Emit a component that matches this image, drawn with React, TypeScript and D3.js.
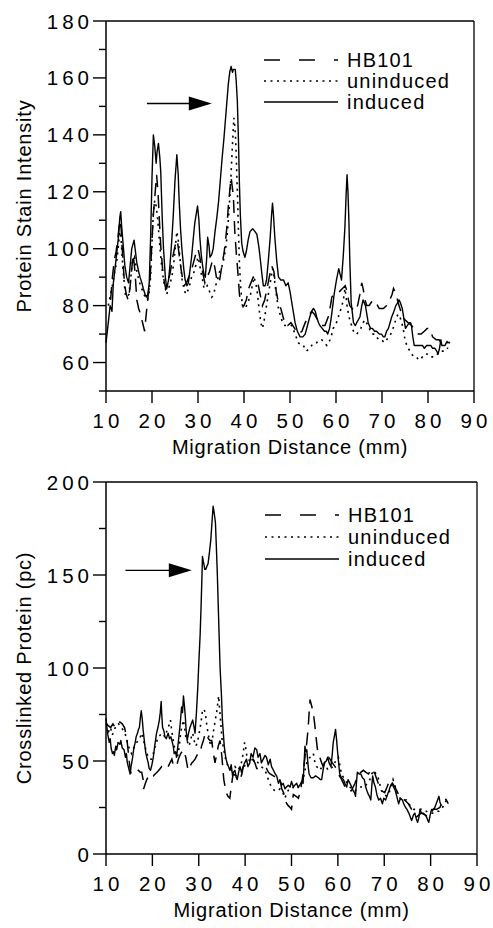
import React from "react";
import * as d3 from "d3";

type Pt = [number, number];

// migration distance (mm) ticks shared by both panels
const xTicks = [10, 20, 30, 40, 50, 60, 70, 80, 90];
const legendLabels = ["HB101", "uninduced", "induced"];

// ---- top panel: protein stain intensity ----
const topYMajor = [60, 80, 100, 120, 140, 160, 180];
const topYMinor = [50, 70, 90, 110, 130, 150, 170];

const topInduced: Pt[] = [
  [10, 67], [10.5, 74], [10.9, 80], [11.3, 78], [11.6, 88], [12.1, 95], [12.7, 104], [13.0, 111], [13.2, 113], [13.4, 108],
  [13.6, 104], [14.1, 94], [14.5, 90], [14.9, 88], [15.3, 95], [15.6, 100], [16.1, 103], [16.4, 99], [16.7, 95], [17.1, 92],
  [17.4, 90], [17.8, 88], [18.1, 86], [18.5, 84], [18.8, 83], [19.1, 84], [19.4, 88], [19.7, 104], [20.0, 125], [20.3, 140],
  [20.6, 136], [20.9, 130], [21.1, 134], [21.4, 137], [21.7, 132], [21.9, 127], [22.2, 112], [22.5, 100], [22.9, 90], [23.2, 86],
  [23.6, 89], [23.9, 94], [24.3, 103], [24.6, 111], [25.0, 124], [25.4, 133], [25.7, 126], [25.9, 117], [26.2, 107], [26.5, 100],
  [26.9, 93], [27.2, 89], [27.6, 87], [27.9, 88], [28.3, 93], [28.6, 97], [29.0, 104], [29.3, 109], [29.7, 113], [29.9, 115],
  [30.2, 110], [30.4, 104], [30.7, 98], [31.0, 94], [31.3, 91], [31.6, 90], [31.9, 97], [32.1, 104], [32.4, 101], [32.6, 97],
  [33.0, 98], [33.3, 100], [33.7, 106], [34.1, 111], [34.5, 117], [34.8, 123], [35.2, 131], [35.65, 139], [36.1, 148], [36.6, 158],
  [36.9, 162], [37.2, 164], [37.5, 162], [37.7, 163], [38.1, 163], [38.3, 159], [38.55, 152], [38.8, 138], [39.0, 123], [39.2, 112],
  [39.5, 102], [39.8, 99], [40.2, 97], [40.5, 99], [40.9, 103], [41.3, 106], [41.9, 107], [42.4, 106], [42.8, 105], [43.2, 101],
  [43.5, 97], [43.9, 91], [44.2, 87], [44.6, 87], [44.9, 89], [45.3, 96], [45.7, 104], [46.0, 112], [46.2, 116], [46.4, 112],
  [46.7, 104], [47.1, 96], [47.5, 90], [48.0, 89], [48.6, 89], [49.1, 87], [49.6, 88], [50.0, 85], [50.4, 81], [50.8, 77],
  [51.1, 74], [51.6, 71], [52.2, 69], [52.8, 69], [53.3, 70], [53.8, 73], [54.3, 76], [54.7, 78], [55.1, 79], [55.5, 78],
  [55.8, 76], [56.2, 74], [56.5, 73], [57.0, 72], [57.5, 71], [57.9, 71], [58.2, 70], [58.6, 72], [58.9, 75], [59.3, 80],
  [59.6, 84], [60.1, 89], [60.6, 93], [60.9, 91], [61.2, 89], [61.6, 98], [61.95, 108], [62.2, 119], [62.4, 126], [62.6, 120],
  [62.8, 110], [63.0, 96], [63.3, 81], [63.8, 74], [64.2, 73], [64.5, 74], [65.2, 76], [65.6, 80], [65.9, 82], [66.4, 80],
  [67.0, 74], [67.5, 72], [67.9, 72], [68.4, 71], [68.8, 71], [69.4, 70], [69.9, 70], [70.3, 69], [70.6, 69], [71.0, 71],
  [71.4, 72], [72.1, 76], [72.6, 78], [73.0, 80], [73.4, 81], [73.7, 82], [74.0, 81], [74.4, 79], [74.8, 75], [75.1, 72],
  [75.5, 73], [75.9, 74], [76.2, 74], [76.4, 73], [76.7, 69], [77.0, 66], [77.5, 66], [77.9, 66], [78.4, 66], [78.8, 66],
  [79.2, 65], [79.7, 66], [80.1, 66], [80.6, 66], [81.0, 65], [81.5, 65], [81.9, 64], [82.2, 63], [82.5, 65], [82.8, 68],
  [83.0, 66], [83.3, 66], [83.7, 66], [84.0, 67], [84.4, 67], [84.8, 67],
];

const topUninduced: Pt[] = [
  [10.5, 80], [11.0, 84], [11.5, 88], [11.9, 92], [12.3, 95], [12.7, 101], [13.0, 106], [13.3, 103], [13.6, 95], [13.9, 89],
  [14.2, 84], [14.6, 83], [15.0, 84], [15.4, 90], [15.7, 95], [16.2, 97], [16.6, 93], [17.0, 90], [17.5, 87], [18.0, 85],
  [18.5, 83], [19.0, 82], [19.4, 85], [19.7, 90], [20.0, 102], [20.3, 113], [20.6, 117], [20.9, 115], [21.2, 111], [21.5, 105],
  [21.8, 99], [22.1, 94], [22.5, 89], [22.9, 86], [23.2, 84], [23.6, 86], [24.0, 88], [24.4, 91], [24.8, 96], [25.1, 101],
  [25.4, 106], [25.7, 103], [26.0, 98], [26.3, 93], [26.6, 88], [27.0, 86], [27.3, 84], [27.7, 85], [28.0, 86], [28.3, 88],
  [28.6, 90], [29.0, 91], [29.3, 93], [29.7, 95], [30.0, 97], [30.3, 95], [30.6, 92], [31.0, 89], [31.3, 86], [31.6, 86],
  [32.0, 87], [32.3, 86], [32.7, 84], [33.0, 83], [33.4, 84], [33.7, 86], [34.0, 88], [34.4, 90], [34.7, 92], [35.1, 93],
  [35.4, 95], [35.7, 97], [36.0, 100], [36.3, 104], [36.6, 110], [37.0, 120], [37.3, 130], [37.6, 140], [37.8, 146], [38.0, 143],
  [38.2, 138], [38.4, 128], [38.6, 118], [38.8, 106], [39.0, 95], [39.3, 86], [39.6, 81], [39.9, 79], [40.3, 79], [40.8, 81],
  [41.3, 83], [41.8, 87], [42.2, 90], [42.5, 88], [42.8, 86], [43.2, 80], [43.5, 76], [43.8, 73], [44.0, 72], [44.3, 74],
  [44.6, 77], [45.0, 81], [45.3, 84], [45.8, 89], [46.2, 93], [46.5, 91], [46.7, 88], [47.1, 83], [47.5, 79], [48.0, 76],
  [48.4, 74], [48.9, 73], [49.3, 73], [49.8, 73], [50.4, 73], [51.1, 70], [51.8, 67], [52.4, 66], [52.9, 66], [53.6, 64],
  [54.2, 65], [54.7, 66], [55.3, 67], [55.8, 67], [56.4, 68], [56.9, 68], [57.5, 67], [58.0, 66], [58.4, 67], [58.7, 68],
  [59.1, 70], [59.4, 72], [59.8, 73], [60.1, 74], [60.5, 76], [60.9, 78], [61.3, 80], [61.6, 82], [61.95, 86], [62.2, 83],
  [62.4, 80], [62.7, 77], [63.0, 75], [63.4, 73], [63.8, 71], [64.2, 70], [64.5, 70], [65.0, 71], [65.4, 72], [65.9, 74],
  [66.3, 75], [66.6, 74], [67.0, 73], [67.5, 71], [67.9, 70], [68.4, 70], [68.8, 69], [69.3, 68], [69.9, 68], [70.5, 67],
  [71.0, 68], [71.5, 69], [71.9, 70], [72.4, 72], [72.8, 74], [73.2, 76], [73.5, 77], [73.9, 76], [74.3, 74], [74.7, 71],
  [75.0, 68], [75.4, 66], [75.7, 65], [76.1, 64], [76.4, 63], [77.0, 62], [77.5, 62], [77.9, 61], [78.3, 61], [78.8, 62],
  [79.3, 63], [79.8, 63], [80.4, 62], [81.0, 62], [81.5, 62], [82.1, 63], [82.6, 64], [83.0, 64], [83.5, 64], [84.0, 65], [84.4, 65],
];

const topHB101: Pt[] = [
  [11.0, 82], [11.4, 90], [11.8, 96], [12.2, 99], [12.6, 104], [13.0, 110], [13.3, 107], [13.6, 98], [14.0, 88], [14.4, 84],
  [14.8, 82], [15.2, 86], [15.6, 93], [15.9, 98], [16.3, 92], [16.7, 82], [17.1, 79], [17.5, 77], [17.8, 75], [18.1, 73],
  [18.4, 71], [18.8, 78], [19.2, 84], [19.6, 90], [20.0, 103], [20.3, 112], [20.7, 120], [21.0, 126], [21.3, 120], [21.6, 110],
  [21.9, 101], [22.3, 93], [22.7, 88], [23.0, 86], [23.5, 88], [24.0, 92], [24.5, 97], [25.0, 101], [25.5, 103], [25.9, 98],
  [26.3, 93], [26.7, 89], [27.0, 87], [27.5, 88], [28.0, 90], [28.5, 92], [29.0, 95], [29.5, 98], [30.0, 100], [30.4, 97],
  [30.7, 94], [31.1, 91], [31.5, 88], [32.0, 90], [32.5, 92], [33.0, 95], [33.3, 96], [33.7, 93], [34.0, 90], [34.4, 88],
  [34.7, 89], [35.0, 92], [35.3, 95], [35.7, 99], [36.0, 103], [36.3, 108], [36.6, 115], [37.0, 122], [37.2, 125], [37.5, 121],
  [37.7, 118], [38.0, 106], [38.3, 99], [38.5, 95], [38.8, 89], [39.0, 84], [39.3, 81], [39.7, 80], [40.0, 80], [40.5, 82],
  [41.0, 86], [41.5, 88], [42.0, 90], [42.5, 89], [43.0, 88], [43.5, 84], [44.0, 80], [44.5, 82], [45.0, 86], [45.5, 90],
  [46.0, 94], [46.5, 92], [47.0, 85], [47.5, 81], [48.0, 79], [48.5, 76], [49.0, 73], [49.5, 73], [50.2, 74], [51.0, 72],
  [51.8, 70], [52.6, 71], [53.3, 74], [54.0, 76], [54.7, 78], [55.3, 77], [56.0, 75], [56.8, 73], [57.6, 73], [58.3, 76],
  [58.8, 80], [59.1, 83], [59.6, 84], [60.1, 84], [60.8, 85], [61.4, 86], [62.0, 87], [62.4, 85], [62.7, 82], [63.0, 80],
  [63.5, 79], [64.1, 78], [64.7, 80], [65.2, 84], [65.6, 88], [65.9, 86], [66.3, 82], [66.7, 80], [67.2, 80], [67.6, 81],
  [68.1, 82], [68.7, 81], [69.4, 79], [70.3, 79], [71.0, 80], [71.7, 82], [72.2, 84], [72.5, 86], [72.8, 85], [73.2, 83],
  [73.7, 80], [74.1, 78], [74.4, 76], [75.0, 75], [75.7, 74], [76.4, 73], [77.0, 72], [77.5, 71], [77.9, 70], [78.5, 70],
  [79.2, 71], [79.8, 72], [80.4, 72], [81.0, 69], [81.8, 68], [82.4, 68], [82.8, 67], [83.3, 68], [83.8, 68], [84.3, 67], [84.8, 67],
];

// ---- bottom panel: crosslinked protein (pc) ----
const bottomYMajor = [0, 50, 100, 150, 200];
const bottomYMinor = [25, 75, 125, 175];

const bottomInduced: Pt[] = [
  [10.0, 73], [10.2, 68], [10.4, 64], [10.7, 60], [10.9, 62], [11.1, 57], [11.4, 54], [11.6, 55], [11.8, 53], [12.1, 58],
  [12.3, 56], [12.6, 60], [13.0, 59], [13.2, 61], [13.5, 57], [13.9, 56], [14.2, 52], [14.4, 54], [14.6, 49], [14.9, 46],
  [15.2, 43], [15.4, 47], [15.75, 52], [16.0, 57], [16.3, 60], [16.5, 63], [16.8, 65], [17.0, 67], [17.2, 68], [17.4, 73],
  [17.6, 77], [17.8, 73], [18.0, 67], [18.3, 60], [18.6, 54], [18.8, 52], [19.1, 49], [19.3, 46], [19.6, 45], [19.9, 48],
  [20.2, 52], [20.5, 58], [20.9, 65], [21.2, 68], [21.5, 72], [21.7, 76], [21.9, 82], [22.0, 76], [22.2, 68], [22.5, 66],
  [22.7, 63], [23.0, 62], [23.4, 65], [23.7, 62], [24.0, 63], [24.2, 61], [24.5, 58], [24.7, 54], [25.0, 55], [25.2, 52],
  [25.5, 58], [25.8, 65], [26.0, 70], [26.3, 79], [26.5, 76], [26.7, 85], [26.9, 80], [27.1, 74], [27.3, 66], [27.5, 61],
  [27.8, 65], [28.1, 68], [28.4, 70], [28.7, 72], [29.0, 68], [29.2, 65], [29.5, 76], [29.8, 90], [30.0, 102], [30.3, 118],
  [30.5, 133], [30.7, 150], [30.8, 160], [31.0, 157], [31.1, 156], [31.3, 153], [31.5, 153], [31.8, 155], [32.0, 156], [32.3, 162],
  [32.6, 169], [32.9, 180], [33.1, 187], [33.3, 184], [33.6, 178], [33.8, 165], [34.0, 151], [34.2, 134], [34.4, 117], [34.6, 100],
  [34.9, 85], [35.1, 72], [35.3, 65], [35.5, 58], [35.7, 54], [35.9, 51], [36.1, 49], [36.4, 47], [36.7, 45], [37.0, 48],
  [37.3, 42], [37.5, 44], [37.8, 45], [38.1, 41], [38.3, 40], [38.6, 44], [38.9, 47], [39.2, 44], [39.6, 47], [39.9, 49],
  [40.3, 51], [40.6, 47], [41.0, 49], [41.3, 54], [41.7, 52], [42.1, 57], [42.5, 56], [42.8, 52], [43.2, 54], [43.5, 49],
  [43.9, 51], [44.3, 53], [44.6, 52], [45.0, 48], [45.4, 51], [45.7, 47], [46.1, 45], [46.5, 43], [46.8, 42], [47.2, 38],
  [47.5, 40], [47.9, 37], [48.2, 38], [48.6, 35], [48.9, 36], [49.3, 37], [49.7, 36], [50.0, 39], [50.4, 36], [50.7, 37],
  [51.1, 38], [51.4, 36], [51.8, 37], [52.2, 39], [52.5, 38], [52.7, 48], [52.9, 58], [53.1, 55], [53.3, 56], [53.6, 47],
  [53.8, 43], [54.2, 41], [54.7, 41], [55.2, 42], [55.8, 41], [56.2, 40], [56.5, 40], [56.8, 45], [57.1, 49], [57.5, 50],
  [57.8, 52], [58.1, 49], [58.5, 47], [58.8, 54], [59.0, 60], [59.3, 64], [59.5, 67], [59.7, 62], [59.9, 56], [60.2, 48],
  [60.4, 43], [60.8, 41], [61.2, 40], [61.5, 38], [61.9, 36], [62.2, 40], [62.6, 38], [63.0, 36], [63.3, 34], [63.6, 33],
  [63.8, 31], [64.0, 38], [64.2, 44], [64.6, 43], [64.96, 43], [65.3, 41], [65.7, 40], [66.0, 36], [66.4, 33], [66.8, 31],
  [67.1, 29], [67.3, 36], [67.5, 42], [67.8, 38], [68.1, 36], [68.4, 32], [68.8, 29], [69.2, 30], [69.6, 27], [69.9, 30],
  [70.3, 29], [70.7, 32], [71.0, 34], [71.4, 37], [71.7, 38], [72.0, 36], [72.4, 34], [72.8, 30], [73.1, 27], [73.5, 30],
  [73.9, 29], [74.2, 27], [74.6, 25], [74.9, 24], [75.3, 22], [75.6, 20], [75.9, 18], [76.3, 21], [76.6, 22], [76.9, 19],
  [77.2, 17], [77.5, 20], [77.7, 24], [78.0, 22], [78.4, 22], [78.8, 21], [79.1, 20], [79.4, 18], [79.6, 17], [79.9, 21],
  [80.2, 24], [80.6, 24], [80.9, 25], [81.2, 27], [81.5, 29], [81.8, 31], [82.0, 28], [82.3, 26],
];

const bottomUninduced: Pt[] = [
  [10.2, 70], [10.6, 66], [11.0, 68], [11.3, 64], [11.6, 65], [12.0, 68], [12.4, 70], [12.7, 70], [13.0, 69], [13.4, 68],
  [13.8, 66], [14.1, 65], [14.5, 61], [14.8, 58], [15.2, 56], [15.5, 54], [15.8, 56], [16.2, 58], [16.6, 60], [17.0, 61],
  [17.4, 63], [17.7, 65], [18.0, 62], [18.4, 58], [18.7, 55], [19.1, 52], [19.5, 51], [19.8, 51], [20.2, 54], [20.6, 58],
  [21.0, 61], [21.3, 63], [21.7, 64], [22.0, 65], [22.4, 64], [22.7, 63], [23.1, 66], [23.4, 68], [23.7, 70], [23.9, 72],
  [24.2, 66], [24.5, 61], [24.7, 58], [25.1, 54], [25.4, 52], [25.8, 58], [26.1, 65], [26.4, 69], [26.7, 72], [27.0, 67],
  [27.2, 63], [27.6, 60], [27.9, 58], [28.3, 62], [28.7, 65], [29.0, 61], [29.4, 58], [29.8, 61], [30.1, 65], [30.5, 71],
  [30.8, 77], [31.1, 78], [31.4, 76], [31.7, 70], [32.0, 65], [32.3, 61], [32.6, 58], [32.9, 61], [33.1, 65], [33.5, 71],
  [33.9, 77], [34.1, 81], [34.3, 85], [34.5, 78], [34.7, 72], [34.9, 65], [35.1, 60], [35.4, 56], [35.7, 52], [36.0, 49],
  [36.4, 47], [36.7, 46], [37.1, 45], [37.4, 46], [37.8, 47], [38.1, 46], [38.5, 45], [38.9, 47], [39.2, 49], [39.5, 53],
  [39.9, 60], [40.2, 56], [40.4, 52], [40.7, 51], [41.0, 50], [41.4, 49], [41.8, 50], [42.1, 51], [42.5, 50], [42.8, 49],
  [43.2, 48], [43.5, 47], [43.9, 46], [44.3, 45], [44.6, 43], [45.0, 40], [45.3, 38], [45.7, 36], [46.0, 35], [46.4, 34],
  [46.8, 34], [47.1, 34], [47.5, 35], [47.9, 34], [48.3, 32], [48.6, 30], [49.0, 33], [49.5, 35], [50.0, 35], [50.5, 36],
  [51.0, 35], [51.5, 36], [52.0, 37], [52.5, 40], [52.9, 45], [53.3, 49], [53.6, 51], [54.0, 52], [54.4, 53], [54.7, 54],
  [55.0, 50], [55.4, 47], [55.8, 46], [56.1, 45], [56.6, 47], [57.1, 49], [57.5, 47], [57.9, 45], [58.4, 46], [59.0, 47],
  [59.5, 50], [60.1, 52], [60.4, 48], [60.6, 45], [61.0, 42], [61.5, 40], [62.0, 38], [62.6, 36], [63.1, 35], [63.7, 34],
  [64.2, 35], [64.7, 36], [65.2, 36], [65.8, 36], [66.3, 38], [66.9, 40], [67.3, 43], [67.8, 45], [68.2, 43], [68.6, 42],
  [69.0, 38], [69.4, 34], [70.0, 32], [70.5, 31], [70.9, 33], [71.2, 34], [71.6, 37], [71.9, 40], [72.3, 37], [72.6, 34],
  [73.1, 31], [73.7, 29], [74.2, 29], [74.8, 29], [75.3, 27], [75.9, 25], [76.4, 24], [76.9, 24], [77.5, 24], [78.0, 24],
  [78.6, 23], [79.1, 23], [79.6, 22], [80.2, 22], [80.7, 22], [81.3, 23], [81.8, 23], [82.3, 24], [82.8, 26], [83.4, 29],
];

const bottomHB101: Pt[] = [
  [10.0, 70], [10.5, 69], [11.0, 68], [11.5, 70], [12.0, 68], [12.5, 70], [13.0, 71], [13.5, 70], [14.0, 68], [14.5, 62],
  [15.0, 50], [15.3, 44], [15.6, 43], [15.9, 43], [16.2, 44], [16.6, 44], [17.0, 45], [17.4, 44], [17.7, 44], [18.0, 40],
  [18.1, 35], [18.5, 38], [18.8, 40], [19.2, 42], [19.5, 43], [19.9, 42], [20.2, 42], [20.6, 43], [21.0, 44], [21.4, 45],
  [21.7, 46], [22.0, 47], [22.4, 46], [22.7, 46], [23.1, 46], [23.4, 47], [23.8, 49], [24.2, 51], [24.5, 48], [24.9, 47],
  [25.2, 47], [25.6, 51], [26.1, 54], [26.7, 56], [27.2, 52], [27.7, 45], [28.1, 47], [28.5, 49], [28.9, 50], [29.2, 51],
  [29.6, 53], [29.9, 54], [30.3, 54], [30.6, 58], [31.0, 61], [31.4, 65], [31.8, 63], [32.4, 61], [32.8, 61], [33.1, 55],
  [33.5, 49], [33.9, 54], [34.2, 58], [34.6, 61], [35.0, 52], [35.4, 40], [35.9, 33], [36.3, 31], [36.7, 30], [37.0, 36],
  [37.4, 43], [38.1, 42], [38.9, 40], [39.3, 43], [39.6, 47], [40.3, 48], [41.0, 50], [41.7, 51], [42.1, 49], [42.5, 46],
  [43.2, 46], [43.9, 46], [44.6, 46], [45.0, 44], [45.4, 43], [46.1, 42], [46.8, 41], [47.5, 40], [47.9, 35], [48.3, 33],
  [48.6, 29], [49.0, 27], [49.3, 26], [49.7, 25], [50.0, 24], [50.4, 32], [51.0, 31], [51.5, 30], [52.0, 35], [52.5, 43],
  [52.9, 52], [53.3, 60], [53.6, 68], [53.8, 76], [54.0, 83], [54.3, 80], [54.7, 76], [55.0, 70], [55.2, 65], [55.6, 56],
  [56.1, 52], [56.5, 49], [56.8, 47], [57.2, 49], [57.6, 52], [58.0, 52], [58.3, 51], [58.8, 49], [59.4, 47], [60.1, 43],
  [60.6, 41], [61.2, 38], [61.9, 34], [62.4, 34], [62.9, 34], [63.3, 36], [63.7, 38], [64.1, 41], [64.5, 43], [65.0, 44],
  [65.5, 45], [66.0, 44], [66.6, 43], [67.3, 46], [68.0, 43], [68.7, 38], [69.4, 34], [70.1, 33], [70.6, 36], [71.2, 40],
  [71.8, 38], [72.3, 36], [72.9, 33], [73.4, 31], [73.9, 30], [74.4, 29], [75.2, 27], [75.9, 24], [76.5, 22], [77.0, 20],
  [77.5, 21], [78.0, 22], [78.8, 21], [79.5, 20], [80.0, 22], [80.6, 24], [81.3, 24], [82.0, 25], [82.5, 28], [83.0, 30],
  [83.4, 29], [83.8, 27],
];

// arrows pointing at the induced band: [x start, x end, y]
const topArrow = [18.9, 33.0, 151];
const bottomArrow = [14.2, 28.5, 152.5];

const FONT = "'Liberation Sans', Arial, Helvetica, sans-serif";
const dashHB = "13,8";
const dotted = "2,4.5";

type PanelProps = {
  top: number;
  bottom: number;
  right: number;
  yDomain: [number, number];
  yMajor: number[];
  yMinor: number[];
  induced: Pt[];
  uninduced: Pt[];
  hb101: Pt[];
  yTitle: string;
  arrow: number[];
  legendRows: number[];
  legendLeft: number;
};

function Panel(p: PanelProps) {
  const left = 106;
  const x = d3.scaleLinear().domain([10, 90]).range([left, p.right]);
  const y = d3.scaleLinear().domain(p.yDomain).range([p.bottom, p.top]);
  const line = d3
    .line<Pt>()
    .x((d) => x(d[0]))
    .y((d) => y(d[1]));

  const [ax0, ax1, ay] = p.arrow;
  const tipX = x(ax1);
  const arrowY = y(ay);
  const styles = [dashHB, dotted, undefined];

  return (
    <g fontFamily={FONT} fill="none" stroke="#000">
      {/* frame */}
      <line x1={left} x2={left} y1={p.top} y2={p.bottom} strokeWidth={1.5} />
      <line x1={left} x2={p.right} y1={p.bottom} y2={p.bottom} strokeWidth={1.5} />
      <line x1={left} x2={p.right} y1={p.top} y2={p.top} strokeWidth={1.3} />
      <line x1={p.right} x2={p.right} y1={p.top} y2={p.bottom} strokeWidth={1.3} />

      {p.yMajor.map((v) => (
        <g key={"M" + v}>
          <line x1={left - 13} x2={left} y1={y(v)} y2={y(v)} strokeWidth={1.4} />
          <text
            x={left - 13}
            y={y(v) + 7.5}
            textAnchor="end"
            fontSize={20.5}
            letterSpacing={4}
            fill="#000"
            stroke="none"
          >
            {v}
          </text>
        </g>
      ))}
      {p.yMinor.map((v) => (
        <line key={"m" + v} x1={left - 7} x2={left} y1={y(v)} y2={y(v)} strokeWidth={1.4} />
      ))}

      {xTicks.map((v) => (
        <g key={"x" + v}>
          <line x1={x(v)} x2={x(v)} y1={p.bottom} y2={p.bottom + 12} strokeWidth={1.4} />
          <text
            x={x(v) + 2}
            y={p.bottom + 37}
            textAnchor="middle"
            fontSize={20.5}
            letterSpacing={4}
            fill="#000"
            stroke="none"
          >
            {v}
          </text>
        </g>
      ))}

      <text
        x={(left + p.right) / 2}
        y={p.bottom + 63}
        textAnchor="middle"
        fontSize={20}
        letterSpacing={0.8}
        fill="#000"
        stroke="none"
      >
        Migration Distance (mm)
      </text>
      <text
        transform={`translate(31,${(p.top + p.bottom) / 2}) rotate(-90)`}
        textAnchor="middle"
        fontSize={20}
        letterSpacing={0.8}
        fill="#000"
        stroke="none"
      >
        {p.yTitle}
      </text>

      {/* traces */}
      <path d={line(p.hb101) ?? ""} strokeWidth={1.5} strokeDasharray={dashHB} />
      <path d={line(p.uninduced) ?? ""} strokeWidth={1.6} strokeDasharray={dotted} />
      <path d={line(p.induced) ?? ""} strokeWidth={1.4} strokeLinejoin="round" />

      {/* arrow */}
      <line x1={x(ax0)} x2={tipX - 20} y1={arrowY} y2={arrowY} strokeWidth={1.4} />
      <path
        d={`M${tipX - 23},${arrowY - 7}L${tipX},${arrowY}L${tipX - 23},${arrowY + 7}Z`}
        fill="#000"
        stroke="none"
      />

      {/* legend */}
      {legendLabels.map((lab, i) => (
        <g key={lab}>
          <line
            x1={p.legendLeft}
            x2={p.legendLeft + 74}
            y1={p.legendRows[i]}
            y2={p.legendRows[i]}
            strokeWidth={1.4}
            strokeDasharray={i === 0 ? "16,19" : styles[i]}
          />
          <text
            x={p.legendLeft + 83}
            y={p.legendRows[i] + 7}
            fontSize={20}
            letterSpacing={1.2}
            fill="#000"
            stroke="none"
          >
            {lab}
          </text>
        </g>
      ))}
    </g>
  );
}

export default function App() {
  return (
    <div style={{ position: "absolute", left: 0, top: 0 }}>
      <svg width={493} height={928} style={{ display: "block", background: "#fff" }}>
        <Panel
          top={21}
          bottom={391}
          right={474}
          yDomain={[50, 180]}
          yMajor={topYMajor}
          yMinor={topYMinor}
          induced={topInduced}
          uninduced={topUninduced}
          hb101={topHB101}
          yTitle="Protein Stain Intensity"
          arrow={topArrow}
          legendRows={[60, 81, 102]}
          legendLeft={264}
        />
        <Panel
          top={482}
          bottom={854}
          right={477}
          yDomain={[0, 200]}
          yMajor={bottomYMajor}
          yMinor={bottomYMinor}
          induced={bottomInduced}
          uninduced={bottomUninduced}
          hb101={bottomHB101}
          yTitle="Crosslinked Protein (pc)"
          arrow={bottomArrow}
          legendRows={[515, 537, 559]}
          legendLeft={265}
        />
      </svg>
    </div>
  );
}
